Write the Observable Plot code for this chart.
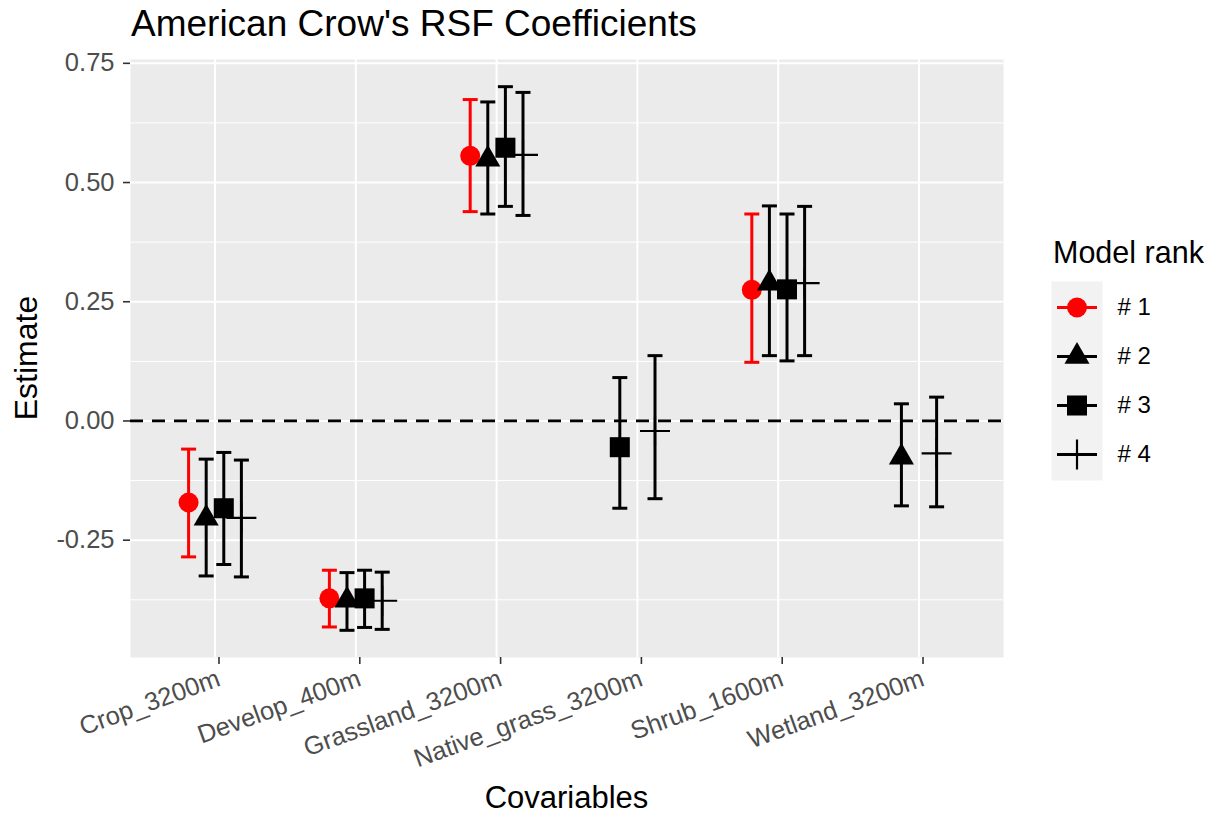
<!DOCTYPE html>
<html>
<head>
<meta charset="utf-8">
<script src="https://cdn.jsdelivr.net/npm/d3@7"></script>
<script src="https://cdn.jsdelivr.net/npm/@observablehq/plot@0.6"></script>
<style>
  body { margin: 0; background: #ffffff; font-family: "Liberation Sans", Arial, sans-serif; }
  #wrap { position: relative; width: 1218px; height: 816px; overflow: hidden; }
  #chart, #legend, #overlay { position: absolute; left: 0; top: 0; }
  #legend { left: 1051px; top: 281px; }
  svg text { font-family: "Liberation Sans", Arial, sans-serif; }
</style>
</head>
<body>
<div id="wrap">
  <div id="chart"></div>
  <div id="legend"></div>
  <svg id="overlay" width="1218" height="816"></svg>
</div>
<script>
// ---------- data ----------
const covariables = ["Crop_3200m", "Develop_400m", "Grassland_3200m", "Native_grass_3200m", "Shrub_1600m", "Wetland_3200m"];
const ranks = ["# 1", "# 2", "# 3", "# 4"];
const rankColors = ["#FF0000", "#000000", "#000000", "#000000"];

const rowCovariable = [
  "Crop_3200m", "Crop_3200m", "Crop_3200m", "Crop_3200m",
  "Develop_400m", "Develop_400m", "Develop_400m", "Develop_400m",
  "Grassland_3200m", "Grassland_3200m", "Grassland_3200m", "Grassland_3200m",
  "Native_grass_3200m", "Native_grass_3200m",
  "Shrub_1600m", "Shrub_1600m", "Shrub_1600m", "Shrub_1600m",
  "Wetland_3200m", "Wetland_3200m"
];
const rowRank = [
  "# 1", "# 2", "# 3", "# 4",
  "# 1", "# 2", "# 3", "# 4",
  "# 1", "# 2", "# 3", "# 4",
  "# 3", "# 4",
  "# 1", "# 2", "# 3", "# 4",
  "# 2", "# 4"
];
const estimate = [
  -0.171, -0.204, -0.183, -0.203,
  -0.372, -0.376, -0.372, -0.377,
  0.556, 0.549, 0.573, 0.558,
  -0.055, -0.021,
  0.275, 0.289, 0.276, 0.289,
  -0.076, -0.068
];
const lower = [
  -0.285, -0.325, -0.301, -0.327,
  -0.432, -0.439, -0.433, -0.437,
  0.439, 0.434, 0.450, 0.431,
  -0.183, -0.163,
  0.123, 0.137, 0.126, 0.137,
  -0.178, -0.180
];
const upper = [
  -0.059, -0.080, -0.066, -0.082,
  -0.313, -0.318, -0.313, -0.317,
  0.674, 0.669, 0.701, 0.689,
  0.091, 0.137,
  0.434, 0.451, 0.434, 0.450,
  0.036, 0.050
];
const yTicks = [-0.25, 0.00, 0.25, 0.50, 0.75];

// ---------- build table ----------
const rows = estimate.map((e, i) => ({cov: rowCovariable[i], rank: rowRank[i], est: e, lo: lower[i], hi: upper[i]}));
const dodgeWidth = 0.5;
for (const [cov, grp] of d3.group(rows, d => d.cov)) {
  const n = grp.length, c = covariables.indexOf(cov);
  grp.forEach((d, j) => { d.pos = c + (j - (n - 1) / 2) * dodgeWidth / n; });
}
const yMin = d3.min(lower), yMax = d3.max(upper), pad = 0.05 * (yMax - yMin);
const step = yTicks[1] - yTicks[0];
const minorTicks = yTicks.map(t => t - step / 2).concat([yTicks[yTicks.length - 1] + step / 2])
  .filter(t => t >= yMin - pad && t <= yMax + pad);

// custom symbols (stroke-only)
const plusSymbol = {draw(ctx, size) { const r = Math.sqrt(size / Math.PI); ctx.moveTo(-r, 0); ctx.lineTo(r, 0); ctx.moveTo(0, -r); ctx.lineTo(0, r); }};
const capSymbol = {draw(ctx, size) { const r = Math.sqrt(size / Math.PI); ctx.moveTo(-r, 0); ctx.lineTo(r, 0); }};

const colorScale = {type: "ordinal", domain: ranks, range: rankColors};
const byRank = k => rows.filter(d => d.rank === ranks[k]);
const FONT = "Liberation Sans, Arial, sans-serif";
const EBW = 3;

// ---------- main plot ----------
const chart = Plot.plot({
  width: 1218,
  height: 816,
  marginLeft: 130,
  marginRight: 215,
  marginTop: 59,
  marginBottom: 159,
  style: {fontFamily: FONT, background: "transparent", overflow: "visible"},
  x: {domain: [-0.6, covariables.length - 0.4]},
  y: {domain: [yMin - pad, yMax + pad]},
  color: colorScale,
  marks: [
    Plot.frame({fill: "#EBEBEB", stroke: null}),
    Plot.ruleY(minorTicks, {stroke: "#ffffff", strokeWidth: 1}),
    Plot.ruleY(yTicks, {stroke: "#ffffff", strokeWidth: 2}),
    Plot.ruleX(covariables.map((_, i) => i), {stroke: "#ffffff", strokeWidth: 2}),
    Plot.ruleY([0], {stroke: "#000000", strokeWidth: 2.8, strokeDasharray: "13,9"}),
    // error bars
    Plot.ruleX(rows, {x: "pos", y1: "lo", y2: "hi", stroke: "rank", strokeWidth: EBW}),
    Plot.dot(rows, {x: "pos", y: "lo", symbol: capSymbol, r: 7.5, fill: "none", stroke: "rank", strokeWidth: EBW}),
    Plot.dot(rows, {x: "pos", y: "hi", symbol: capSymbol, r: 7.5, fill: "none", stroke: "rank", strokeWidth: EBW}),
    // points
    Plot.dot(byRank(0), {x: "pos", y: "est", symbol: "circle", r: 10, fill: "rank", stroke: null}),
    Plot.dot(byRank(1), {x: "pos", y: "est", symbol: "triangle", r: 9.3, fill: "rank", stroke: null}),
    Plot.dot(byRank(2), {x: "pos", y: "est", symbol: "square", r: 11.3, fill: "rank", stroke: null}),
    Plot.dot(byRank(3), {x: "pos", y: "est", symbol: plusSymbol, r: 15, fill: "none", stroke: "rank", strokeWidth: 2.2}),
    // axes
    Plot.axisY(yTicks, {tickFormat: d => d.toFixed(2), tickSize: 7, tickPadding: 9, fontSize: 25.5,
      stroke: "#333333", fill: "#4D4D4D", strokeWidth: 1.6, label: null}),
    Plot.axisX(covariables.map((_, i) => i), {tickFormat: i => covariables[i], tickRotate: -20, tickSize: 7,
      tickPadding: 13, dx: 4, fontSize: 25.5, stroke: "#333333", fill: "#4D4D4D", strokeWidth: 1.6, label: null})
  ]
});
document.getElementById("chart").appendChild(chart);

// ---------- legend ----------
const legend = Plot.plot({
  width: 167,
  height: 199,
  marginLeft: 0,
  marginRight: 116,
  marginTop: 0,
  marginBottom: 0,
  style: {fontFamily: FONT, background: "transparent", overflow: "visible"},
  x: {domain: [0, 1], axis: null},
  y: {type: "point", domain: ranks, padding: 0.5, axis: null},
  color: colorScale,
  marks: [
    Plot.frame({fill: "#F2F2F2", stroke: null}),
    Plot.ruleY(ranks, {y: d => d, stroke: d => d, strokeWidth: EBW, insetLeft: 6, insetRight: 5}),
    Plot.dot(ranks.slice(0, 1), {x: () => 0.5, y: d => d, symbol: "circle", r: 10, fill: d => d, stroke: null}),
    Plot.dot(ranks.slice(1, 2), {x: () => 0.5, y: d => d, symbol: "triangle", r: 9.3, fill: d => d, stroke: null}),
    Plot.dot(ranks.slice(2, 3), {x: () => 0.5, y: d => d, symbol: "square", r: 11.3, fill: d => d, stroke: null}),
    Plot.dot(ranks.slice(3, 4), {x: () => 0.5, y: d => d, symbol: plusSymbol, r: 15, fill: "none", stroke: d => d, strokeWidth: 2.2}),
    Plot.text(ranks, {x: () => 1, y: d => d, text: d => d, dx: 15, textAnchor: "start", fontSize: 24, fill: "#000000"})
  ]
});
document.getElementById("legend").appendChild(legend);

// ---------- titles ----------
const ov = d3.select("#overlay");
ov.append("text").attr("x", 131).attr("y", 36).attr("font-size", 37).attr("fill", "#000")
  .text("American Crow's RSF Coefficients");
ov.append("text").attr("x", 566.5).attr("y", 808).attr("font-size", 31).attr("fill", "#000")
  .attr("text-anchor", "middle").text("Covariables");
ov.append("text").attr("transform", "translate(37,358) rotate(-90)").attr("font-size", 32).attr("fill", "#000")
  .attr("text-anchor", "middle").text("Estimate");
ov.append("text").attr("x", 1053).attr("y", 263).attr("font-size", 30.5).attr("fill", "#000")
  .text("Model rank");
</script>
</body>
</html>
